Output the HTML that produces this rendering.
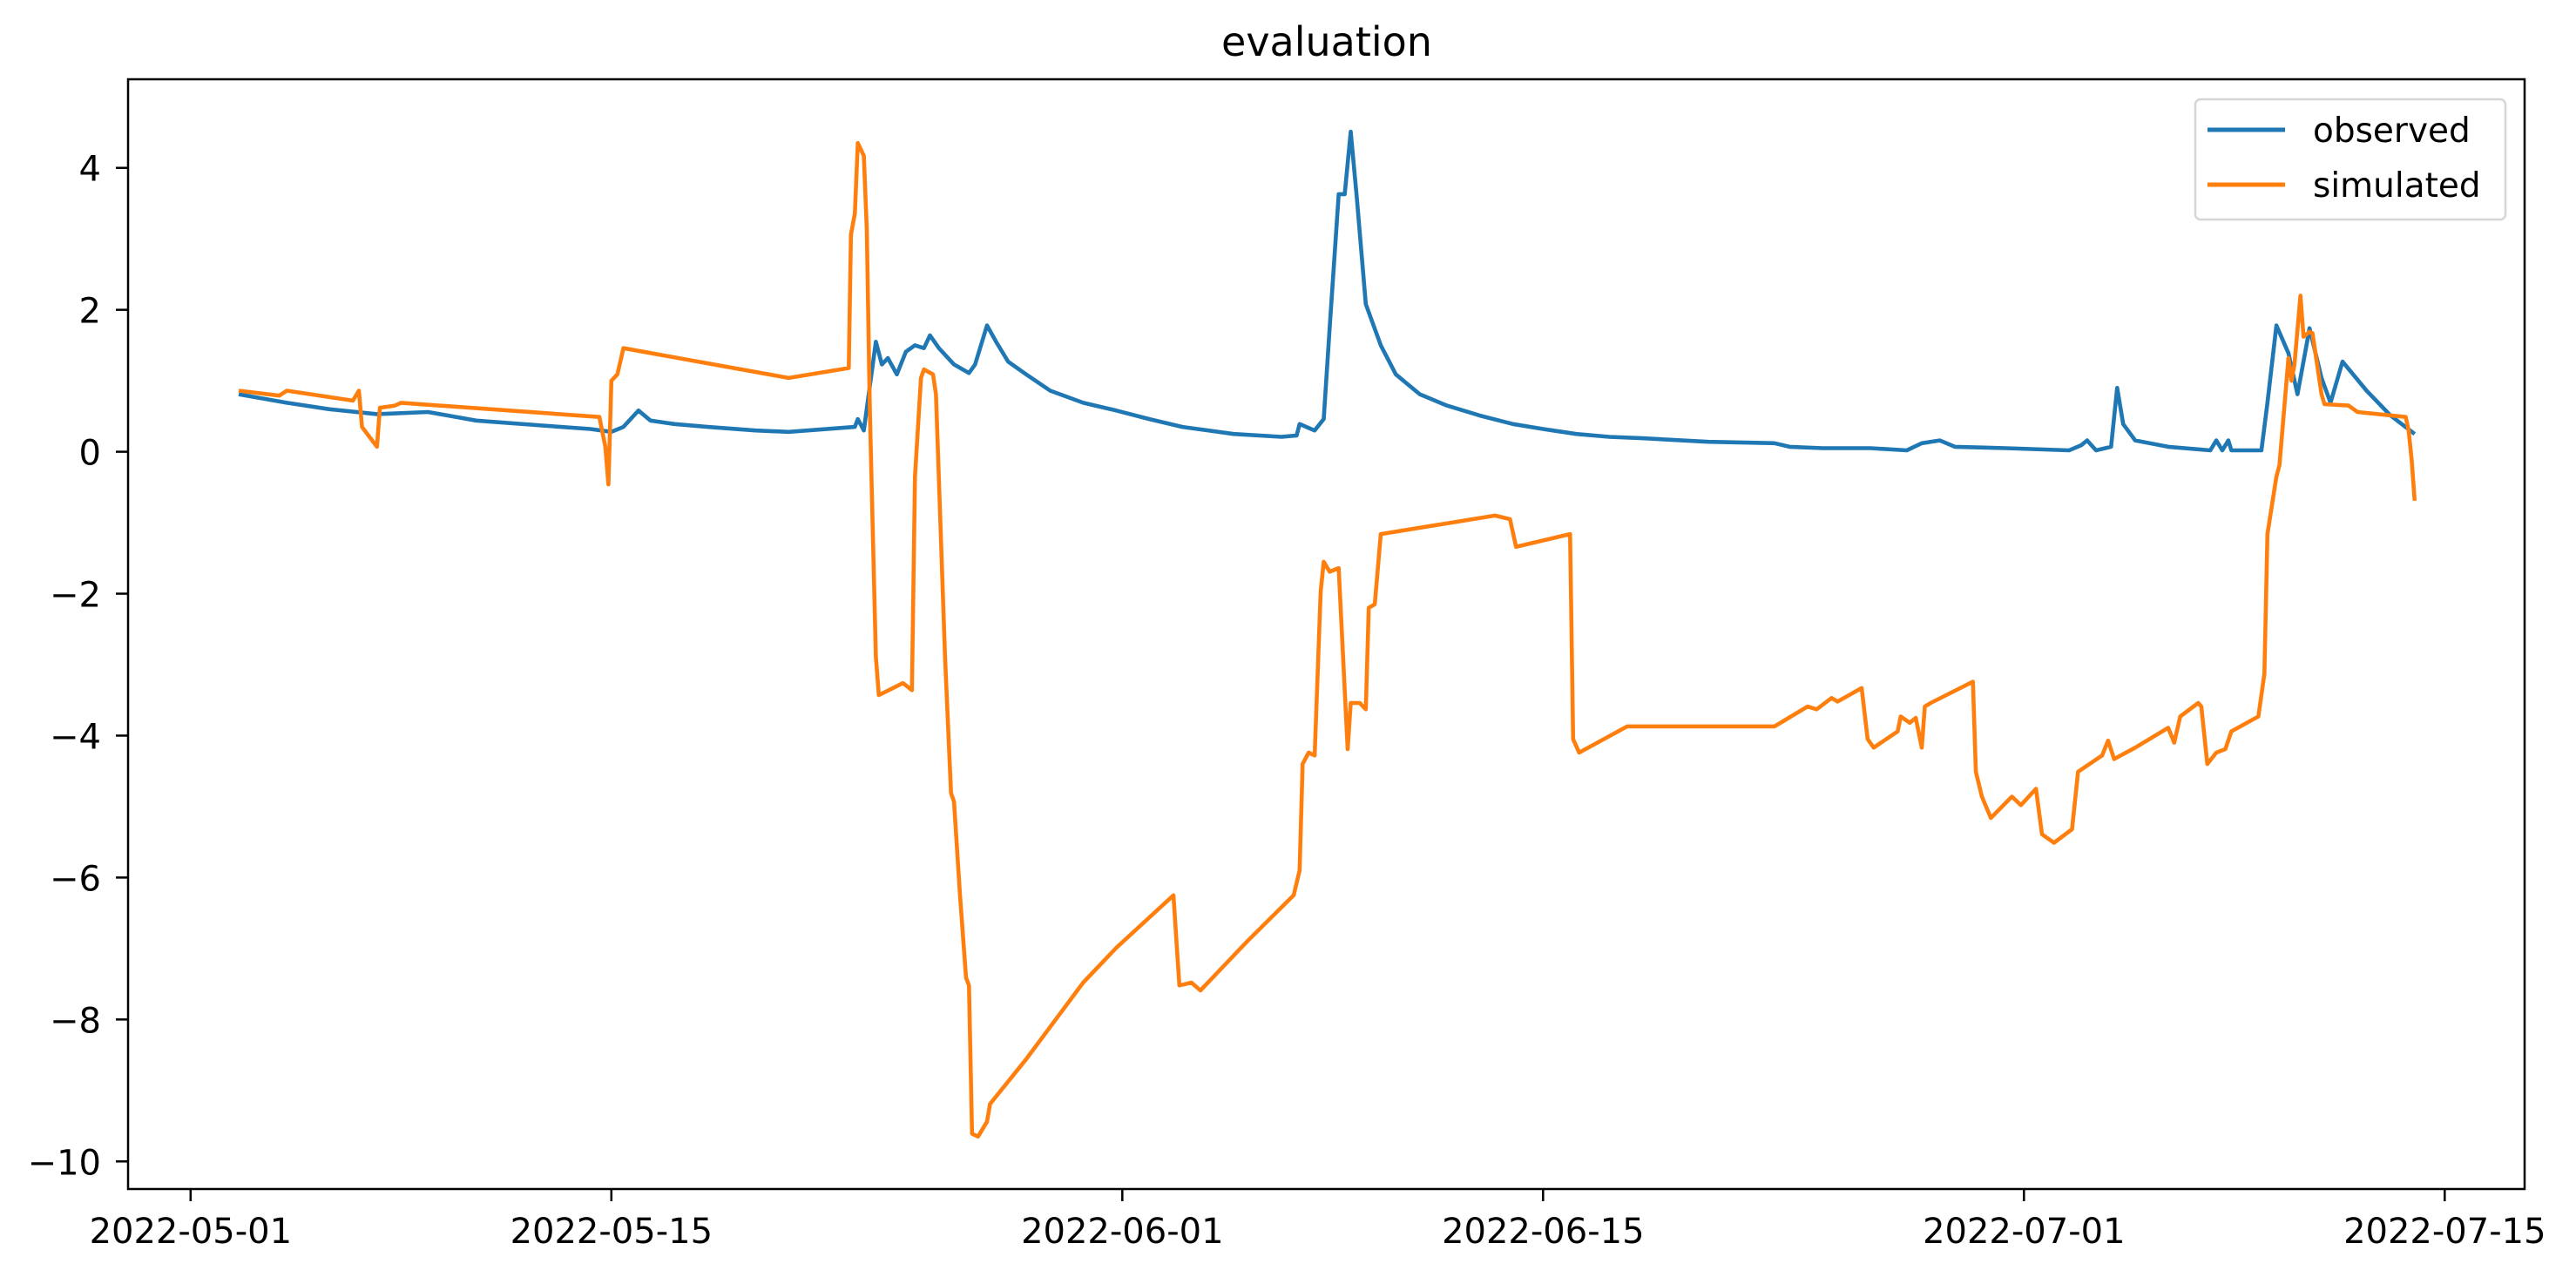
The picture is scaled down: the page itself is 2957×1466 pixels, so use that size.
<!DOCTYPE html>
<html><head><meta charset="utf-8"><style>
html,body{margin:0;padding:0;background:#fff;}
svg{display:block;font-family:"DejaVu Sans","Liberation Sans",sans-serif;}
</style></head><body>
<svg id="chart" width="2957" height="1466" viewBox="0 0 2957 1466" xmlns="http://www.w3.org/2000/svg">
<rect width="2957" height="1466" fill="#fff"/>
<text x="1523" y="64" font-size="46" text-anchor="middle">evaluation</text>
<g id="series"></g>
<rect x="147" y="91" width="2751" height="1274" fill="none" stroke="#000" stroke-width="2.5"/>
<g id="ticks"></g>
<g>
<rect x="2520" y="114" width="356" height="138" rx="6" fill="#fff" fill-opacity="0.8" stroke="#d6d6d6" stroke-width="2.5"/>
<line x1="2534" y1="149" x2="2623" y2="149" stroke="#1f77b4" stroke-width="5"/>
<text x="2655" y="163" font-size="39">observed</text>
<line x1="2534" y1="212" x2="2623" y2="212" stroke="#ff7f0e" stroke-width="5"/>
<text x="2655" y="226" font-size="39">simulated</text>
</g>
</svg>
<script>
// days since 2022-05-01
const obsDays=[1.6,3.2,4.6,6.2,7.9,9.5,11.7,13.3,14.0,14.4,14.9,15.3,16.1,17.2,18.8,19.9,22.1,22.2,22.4,22.8,23.0,23.2,23.5,23.8,24.1,24.4,24.6,24.9,25.4,25.9,26.1,26.5,26.8,27.2,27.8,28.6,29.7,30.8,31.9,33.0,34.7,36.3,36.8,36.9,37.4,37.7,37.9,38.2,38.4,38.6,38.8,39.1,39.6,40.1,40.9,41.8,42.9,44.0,45.0,46.1,47.2,48.3,50.5,52.7,53.2,54.3,55.9,57.1,57.6,58.2,58.7,60.4,62.5,62.9,63.1,63.4,63.9,64.1,64.3,64.7,65.8,67.2,67.4,67.6,67.8,67.9,68.9,69.1,69.4,69.8,70.1,70.4,70.5,70.9,71.2,71.6,72.4,73.2,74.0];
const obsVals=[0.81,0.69,0.60,0.53,0.56,0.44,0.37,0.32,0.28,0.35,0.58,0.44,0.39,0.35,0.30,0.28,0.35,0.46,0.30,1.55,1.23,1.32,1.09,1.41,1.50,1.46,1.64,1.46,1.23,1.11,1.23,1.78,1.55,1.27,1.09,0.86,0.69,0.58,0.46,0.35,0.25,0.21,0.23,0.39,0.30,0.46,1.74,3.63,3.63,4.51,3.59,2.08,1.50,1.09,0.81,0.65,0.51,0.39,0.32,0.25,0.21,0.19,0.14,0.12,0.07,0.05,0.05,0.02,0.12,0.16,0.07,0.05,0.02,0.09,0.16,0.02,0.07,0.90,0.39,0.16,0.07,0.02,0.16,0.02,0.16,0.02,0.02,0.69,1.78,1.39,0.81,1.50,1.74,1.04,0.69,1.27,0.86,0.51,0.25];
const simDays=[1.6,2.95,3.2,5.4,5.6,5.7,6.2,6.3,6.8,7.0,13.6,13.8,13.9,14.0,14.2,14.4,19.9,21.9,21.97,22.1,22.2,22.4,22.5,22.6,22.8,22.9,23.7,24.0,24.1,24.3,24.4,24.7,24.8,25.1,25.3,25.4,25.6,25.8,25.9,26.0,26.2,26.5,26.6,27.8,29.7,30.8,32.7,32.9,33.3,33.6,35.2,36.7,36.9,37.0,37.2,37.4,37.6,37.7,37.9,38.2,38.4,38.5,38.6,38.9,39.1,39.2,39.4,39.6,43.4,43.9,44.1,45.9,46.0,46.2,47.8,52.7,53.8,54.1,54.6,54.8,55.6,55.8,56.0,56.8,56.9,57.2,57.4,57.6,57.7,57.9,59.3,59.4,59.6,59.9,60.6,60.9,61.4,61.6,62.0,62.6,62.8,63.6,63.8,64.0,64.7,65.8,66.0,66.2,66.8,66.9,67.1,67.4,67.7,67.9,68.8,69.0,69.1,69.4,69.5,69.8,69.9,70.0,70.2,70.3,70.5,70.6,70.9,71.0,71.8,72.1,73.7,73.8,73.9,74.0];
const simVals=[0.86,0.79,0.86,0.72,0.86,0.35,0.07,0.62,0.65,0.69,0.49,0.07,-0.46,1.0,1.09,1.46,1.04,1.18,3.06,3.36,4.35,4.17,3.13,0.58,-2.89,-3.43,-3.26,-3.36,-0.35,1.04,1.16,1.09,0.81,-2.89,-4.81,-4.93,-6.25,-7.41,-7.52,-9.61,-9.65,-9.44,-9.19,-8.56,-7.48,-6.99,-6.25,-7.52,-7.48,-7.59,-6.88,-6.25,-5.90,-4.40,-4.24,-4.28,-1.97,-1.55,-1.69,-1.64,-3.36,-4.19,-3.54,-3.54,-3.63,-2.20,-2.15,-1.16,-0.90,-0.95,-1.34,-1.16,-4.05,-4.24,-3.87,-3.87,-3.59,-3.63,-3.47,-3.52,-3.33,-4.05,-4.17,-3.94,-3.73,-3.82,-3.75,-4.17,-3.59,-3.54,-3.24,-4.51,-4.86,-5.16,-4.86,-4.98,-4.75,-5.39,-5.51,-5.32,-4.51,-4.28,-4.07,-4.33,-4.17,-3.89,-4.10,-3.73,-3.54,-3.59,-4.40,-4.24,-4.19,-3.94,-3.73,-3.13,-1.16,-0.35,-0.19,1.32,1.0,1.23,2.20,1.62,1.69,1.67,0.81,0.67,0.65,0.56,0.49,0.30,-0.12,-0.69];
const xTickDays=[0,14,31,45,61,75];
const xTickLabels=["2022-05-01","2022-05-15","2022-06-01","2022-06-15","2022-07-01","2022-07-15"];
const yTickVals=[4,2,0,-2,-4,-6,-8,-10];
const yTickLabels=["4","2","0","\u22122","\u22124","\u22126","\u22128","\u221210"];

const NS="http://www.w3.org/2000/svg";
function xs(d){return 218.8+d*34.5;}
function ys(v){return 518.6-v*81.47;}
const series=document.getElementById('series');
function drawLine(days,vals,color,name){
  const p=document.createElementNS(NS,'polyline');
  p.setAttribute('points',days.map((d,i)=>xs(d).toFixed(1)+','+ys(vals[i]).toFixed(1)).join(' '));
  p.setAttribute('fill','none');p.setAttribute('stroke',color);
  p.setAttribute('stroke-width','4.6');p.setAttribute('stroke-linejoin','round');
  
  
  series.appendChild(p);
}
drawLine(obsDays,obsVals,'#1f77b4','observed-line');
drawLine(simDays,simVals,'#ff7f0e','simulated-line');
const ticks=document.getElementById('ticks');
xTickDays.forEach((d,i)=>{
  const x=xs(d);
  const l=document.createElementNS(NS,'line');
  l.setAttribute('x1',x);l.setAttribute('x2',x);l.setAttribute('y1',1365);l.setAttribute('y2',1379);
  l.setAttribute('stroke','#000');l.setAttribute('stroke-width','2.5');
  
  
  ticks.appendChild(l);
  const t=document.createElementNS(NS,'text');
  t.setAttribute('x',x);t.setAttribute('y',1427);t.setAttribute('font-size','40');t.setAttribute('text-anchor','middle');
  t.textContent=xTickLabels[i];
  
  
  ticks.appendChild(t);
});
yTickVals.forEach((v,i)=>{
  const y=ys(v);
  const l=document.createElementNS(NS,'line');
  l.setAttribute('x1',133);l.setAttribute('x2',147);l.setAttribute('y1',y);l.setAttribute('y2',y);
  l.setAttribute('stroke','#000');l.setAttribute('stroke-width','2.5');
  
  
  ticks.appendChild(l);
  const t=document.createElementNS(NS,'text');
  t.setAttribute('x',116);t.setAttribute('y',y+15);t.setAttribute('font-size','40');t.setAttribute('text-anchor','end');
  t.textContent=yTickLabels[i];
  
  
  ticks.appendChild(t);
});
</script>
</body></html>
